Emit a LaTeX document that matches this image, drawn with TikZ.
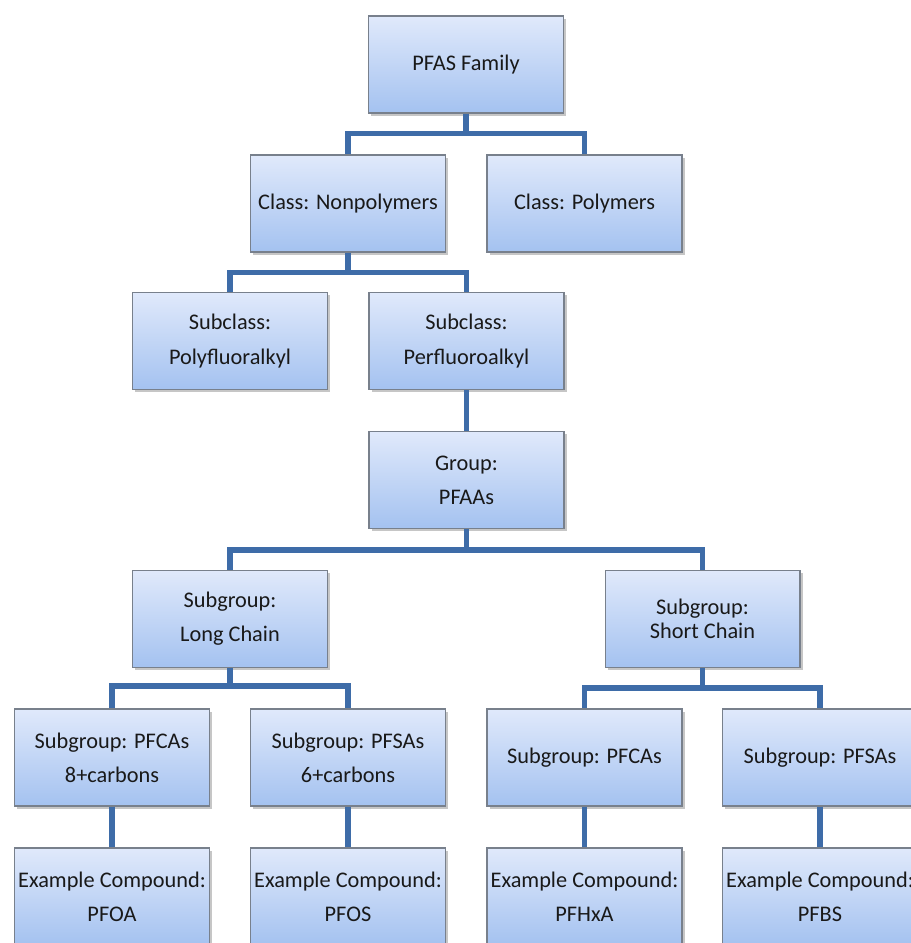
\documentclass[tikz,border=0pt]{standalone}
\usepackage{fontspec}
\setmainfont{Carlito}
\usetikzlibrary{shadows}
\definecolor{linkblue}{RGB}{62,108,168}
\definecolor{boxtop}{RGB}{224,233,251}
\definecolor{boxbot}{RGB}{164,194,240}
\definecolor{boxline}{RGB}{120,128,140}

\begin{document}
\begin{tikzpicture}[x=0.02cm,y=-0.02cm,font=\fontsize{12.7}{19.5}\selectfont,
  box/.style={draw=boxline,line width=0.6pt,top color=boxtop,bottom color=boxbot,
    minimum width=3.9cm,minimum height=1.94cm,inner sep=2pt,align=center,text=black!90,
    drop shadow={shadow xshift=1.5pt,shadow yshift=-1.5pt,opacity=0.45}},
  link/.style={draw=linkblue,line width=3.3pt}]
\useasboundingbox (0,0) rectangle (911,943);
\clip (0,0) rectangle (911,943);
% tree of the PFAS family, one level per row (positions in px of the original)
\node[box] (fam) at (466,64.5) {PFAS Family};
\node[box] (nonpoly) at (348,203.5) {Class: Nonpolymers};
\node[box] (poly) at (584.5,203.5) {Class: Polymers};
\node[box] (polyfl) at (230,341) {Subclass:\\Polyfluoralkyl};
\node[box] (perfl) at (466.5,341) {Subclass:\\Perfluoroalkyl};
\node[box] (grp) at (466.5,480) {Group:\\PFAAs};
\node[box] (longc) at (230,619) {Subgroup:\\Long Chain};
\node[box] (shortc) at (702.5,619) {Subgroup:\\[-6pt]Short Chain};
% subgroups and their example compounds
\foreach \n/\x/\t/\c in {pfca8/112/{Subgroup: PFCAs\\8+carbons}/PFOA,
    pfsa6/348/{Subgroup: PFSAs\\6+carbons}/PFOS,
    pfcas/584.5/{Subgroup: PFCAs}/PFHxA,
    pfsas/820/{Subgroup: PFSAs}/PFBS}{
  \node[box] (\n) at (\x,757.5) {\t};
  \node[box] (ex\n) at (\x,896.5) {Example Compound:\\\c};
  \draw[link] (\n.south) -- (ex\n.north);
}
% connectors
\draw[link] (fam.south) -- ++(0,20) coordinate (j1) -| (nonpoly.north);
\draw[link] (j1) -| (poly.north);
\draw[link] (nonpoly.south) -- ++(0,20) coordinate (j2) -| (polyfl.north);
\draw[link] (j2) -| (perfl.north);
\draw[link] (perfl.south) -- (grp.north);
\draw[link] (grp.south) -- ++(0,21) coordinate (j3) -| (longc.north);
\draw[link] (j3) -| (shortc.north);
\draw[link] (longc.south) -- ++(0,18) coordinate (j4) -| (pfca8.north);
\draw[link] (j4) -| (pfsa6.north);
\draw[link] (shortc.south) -- ++(0,20) coordinate (j5) -| (pfcas.north);
\draw[link] (j5) -| (pfsas.north);
\end{tikzpicture}
\end{document}
